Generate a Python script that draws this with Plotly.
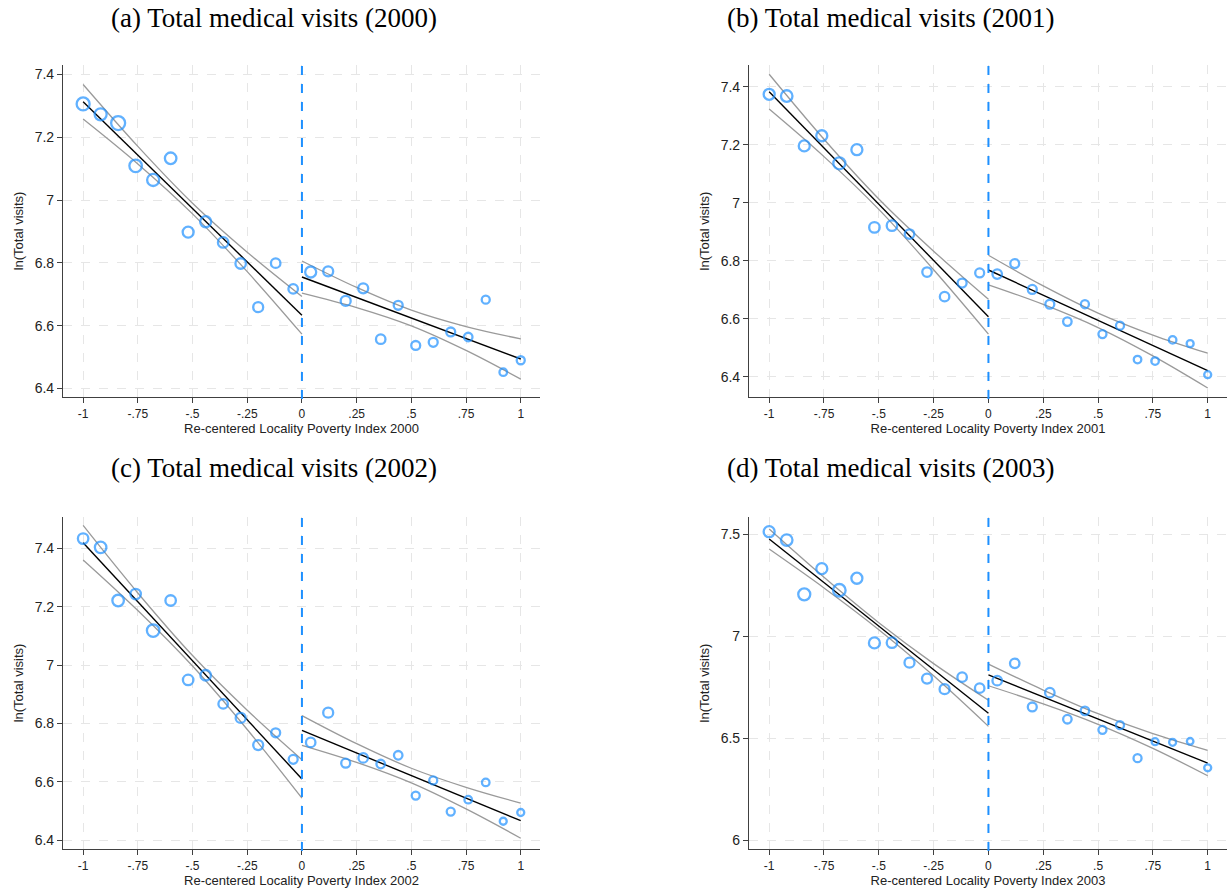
import plotly.graph_objects as go
import numpy as np

# ---------------- data ----------------
# bin centres of the re-centred poverty index
bins_left = [-1.00, -0.92, -0.84, -0.76, -0.68, -0.60, -0.52, -0.44, -0.36, -0.28, -0.20, -0.12, -0.04]
bins_right = [0.04, 0.12, 0.20, 0.28, 0.36, 0.44, 0.52, 0.60, 0.68, 0.76, 0.84, 0.92, 1.00]

years = ["2000", "2001", "2002", "2003"]
panel_letters = ["a", "b", "c", "d"]

# binned means of ln(total visits)
mean_left_2000 = [7.306, 7.273, 7.245, 7.109, 7.064, 7.133, 6.898, 6.931, 6.865, 6.798, 6.659, 6.799, 6.717]
mean_right_2000 = [6.771, 6.773, 6.679, 6.719, 6.557, 6.665, 6.537, 6.547, 6.580, 6.564, 6.683, 6.452, 6.490]
mean_left_2001 = [7.374, 7.368, 7.196, 7.231, 7.136, 7.183, 6.915, 6.921, 6.892, 6.761, 6.676, 6.723, 6.758]
mean_right_2001 = [6.754, 6.790, 6.701, 6.650, 6.590, 6.650, 6.547, 6.576, 6.459, 6.454, 6.527, 6.514, 6.407]
mean_left_2002 = [7.433, 7.403, 7.221, 7.243, 7.118, 7.221, 6.949, 6.965, 6.867, 6.819, 6.726, 6.768, 6.677]
mean_right_2002 = [6.735, 6.837, 6.664, 6.682, 6.661, 6.691, 6.553, 6.605, 6.498, 6.539, 6.598, 6.465, 6.495]
mean_left_2003 = [7.513, 7.472, 7.206, 7.332, 7.226, 7.285, 6.968, 6.969, 6.871, 6.793, 6.741, 6.800, 6.746]
mean_right_2003 = [6.783, 6.868, 6.654, 6.724, 6.594, 6.635, 6.542, 6.565, 6.403, 6.484, 6.481, 6.486, 6.356]

# relative number of observations in each bin (marker area)
obs_left_2000 = [0.86, 0.74, 1.00, 0.80, 0.74, 0.68, 0.62, 0.62, 0.56, 0.56, 0.51, 0.46, 0.46]
obs_right_2000 = [0.62, 0.51, 0.51, 0.51, 0.46, 0.41, 0.41, 0.41, 0.41, 0.37, 0.33, 0.29, 0.33]
obs_left_2001 = [0.62, 0.68, 0.62, 0.62, 0.74, 0.62, 0.56, 0.56, 0.46, 0.46, 0.46, 0.41, 0.41]
obs_right_2001 = [0.46, 0.41, 0.41, 0.41, 0.37, 0.33, 0.33, 0.33, 0.29, 0.29, 0.29, 0.25, 0.25]
obs_left_2002 = [0.56, 0.68, 0.68, 0.56, 0.80, 0.56, 0.56, 0.56, 0.46, 0.51, 0.51, 0.41, 0.41]
obs_right_2002 = [0.46, 0.51, 0.41, 0.46, 0.37, 0.37, 0.33, 0.33, 0.33, 0.29, 0.29, 0.25, 0.25]
obs_left_2003 = [0.62, 0.68, 0.74, 0.62, 0.80, 0.62, 0.62, 0.56, 0.51, 0.51, 0.51, 0.46, 0.46]
obs_right_2003 = [0.46, 0.46, 0.41, 0.46, 0.37, 0.37, 0.33, 0.33, 0.33, 0.25, 0.25, 0.22, 0.25]

# linear fits (value at the two ends of each side)
fit_ends_left = {"2000": [7.313, 6.633], "2001": [7.383, 6.607], "2002": [7.419, 6.610], "2003": [7.477, 6.623]}
fit_ends_right = {"2000": [6.755, 6.494], "2001": [6.768, 6.421], "2002": [6.776, 6.467], "2003": [6.811, 6.379]}

# 95% CI half-widths read at these points
ci_x_left = [-1.0, -0.75, -0.5, -0.25, 0.0]
ci_x_right = [0.0, 0.25, 0.5, 0.75, 1.0]
ci_hw_left = {"2000": [0.055, 0.028, 0.017, 0.031, 0.060],
              "2001": [0.060, 0.030, 0.018, 0.032, 0.060],
              "2002": [0.059, 0.030, 0.018, 0.033, 0.066],
              "2003": [0.049, 0.026, 0.017, 0.030, 0.064]}
ci_hw_right = {"2000": [0.051, 0.032, 0.025, 0.038, 0.064],
               "2001": [0.051, 0.032, 0.025, 0.036, 0.060],
               "2002": [0.051, 0.032, 0.025, 0.037, 0.060],
               "2003": [0.053, 0.034, 0.026, 0.036, 0.062]}

x_tick_vals = [-1, -0.75, -0.5, -0.25, 0, 0.25, 0.5, 0.75, 1]
x_tick_text = ["-1", "-.75", "-.5", "-.25", "0", ".25", ".5", ".75", "1"]
y_ticks = {"2000": [6.4, 6.6, 6.8, 7.0, 7.2, 7.4],
           "2001": [6.4, 6.6, 6.8, 7.0, 7.2, 7.4],
           "2002": [6.4, 6.6, 6.8, 7.0, 7.2, 7.4],
           "2003": [6.0, 6.5, 7.0, 7.5]}
y_ranges = {"2000": [6.373, 7.430], "2001": [6.330, 7.475], "2002": [6.370, 7.507], "2003": [5.958, 7.585]}

means = {"2000": (mean_left_2000, mean_right_2000), "2001": (mean_left_2001, mean_right_2001),
         "2002": (mean_left_2002, mean_right_2002), "2003": (mean_left_2003, mean_right_2003)}
obs = {"2000": (obs_left_2000, obs_right_2000), "2001": (obs_left_2001, obs_right_2001),
       "2002": (obs_left_2002, obs_right_2002), "2003": (obs_left_2003, obs_right_2003)}

# ---------------- layout geometry ----------------
W, H = 1231, 895
BLUE = "#1E90FF"
GRID = "#e6e6e6"
AXIS = "#404040"
CI_COL = "#9a9a9a"

px_x = [(63, 540), (749, 1227), (63, 540), (749, 1227)]
px_y = [(65, 397), (65, 397), (517, 849), (517, 849)]
title_pos = [(274, 18), (891, 18), (274, 468), (891, 468)]

fig = go.Figure()


def fmt_y(v):
    return "%g" % v


for i, yr in enumerate(years):
    xa = "x" if i == 0 else "x%d" % (i + 1)
    ya = "y" if i == 0 else "y%d" % (i + 1)
    ml, mr = means[yr]
    ol, orr = obs[yr]

    # CI lines and fits
    for xs, ends, hws in ((ci_x_left, fit_ends_left[yr], ci_hw_left[yr]),
                          (ci_x_right, fit_ends_right[yr], ci_hw_right[yr])):
        xs = np.array(xs)
        fit = np.interp(xs, [xs[0], xs[-1]], ends)
        for sign in (1, -1):
            fig.add_trace(go.Scatter(x=xs, y=fit + sign * np.array(hws), mode="lines",
                                     line=dict(color=CI_COL, width=1.3, shape="spline", smoothing=1.0),
                                     xaxis=xa, yaxis=ya, showlegend=False, hoverinfo="skip"))
        fig.add_trace(go.Scatter(x=[xs[0], xs[-1]], y=ends, mode="lines",
                                 line=dict(color="black", width=1.4),
                                 xaxis=xa, yaxis=ya, showlegend=False, hoverinfo="skip"))

    # binned means
    for bx, by, bo in ((bins_left, ml, ol), (bins_right, mr, orr)):
        sizes = [14.0 * np.sqrt(o) for o in bo]
        fig.add_trace(go.Scatter(x=bx, y=by, mode="markers",
                                 marker=dict(symbol="circle-open", size=sizes, color=BLUE,
                                             line=dict(width=2.3, color=BLUE)),
                                 xaxis=xa, yaxis=ya, showlegend=False))

    x0, x1 = px_x[i]
    yt, yb = px_y[i]
    xdom = [x0 / W, x1 / W]
    ydom = [1 - yb / H, 1 - yt / H]
    xaxis = dict(domain=xdom, range=[-1.092, 1.088], anchor=ya, tickvals=x_tick_vals, ticktext=x_tick_text,
                 showline=True, linecolor=AXIS, linewidth=1.2, ticks="outside", ticklen=5, tickcolor=AXIS,
                 tickwidth=1.2, showgrid=True, gridcolor=GRID, griddash="dash", gridwidth=1.2, zeroline=False,
                 tickfont=dict(family="Liberation Sans, Arial", size=12, color="#222"),
                 title=dict(text="Re-centered Locality Poverty Index " + yr,
                            font=dict(family="Liberation Sans, Arial", size=13, color="#222"), standoff=4))
    yaxis = dict(domain=ydom, range=y_ranges[yr], anchor=xa, tickvals=y_ticks[yr],
                 ticktext=[fmt_y(v) for v in y_ticks[yr]],
                 showline=True, linecolor=AXIS, linewidth=1.2, ticks="outside", ticklen=5, tickcolor=AXIS,
                 tickwidth=1.2, showgrid=True, gridcolor=GRID, griddash="dash", gridwidth=1.2, zeroline=False,
                 tickfont=dict(family="Liberation Sans, Arial", size=14, color="#222"),
                 title=dict(text="ln(Total visits)", font=dict(family="Liberation Sans, Arial", size=13, color="#222"),
                            standoff=8))
    key = "" if i == 0 else str(i + 1)
    fig.update_layout(**{"xaxis" + key: xaxis, "yaxis" + key: yaxis})

    # cutoff line
    fig.add_shape(type="line", xref=xa, yref="paper",
                  x0=0, x1=0, y0=ydom[0] - 2 / H, y1=ydom[1],
                  line=dict(color=BLUE, width=2, dash="dash"))

    # panel title
    tx, ty = title_pos[i]
    fig.add_annotation(x=tx / W, y=1 - ty / H, xref="paper", yref="paper", showarrow=False,
                       text="(%s) Total medical visits (%s)" % (panel_letters[i], yr),
                       font=dict(family="Liberation Serif, Times New Roman, serif", size=27, color="black"),
                       xanchor="center", yanchor="middle")

fig.update_layout(width=W, height=H, margin=dict(l=0, r=0, t=0, b=0),
                  plot_bgcolor="white", paper_bgcolor="white", showlegend=False)

fig.write_html("out.html")
